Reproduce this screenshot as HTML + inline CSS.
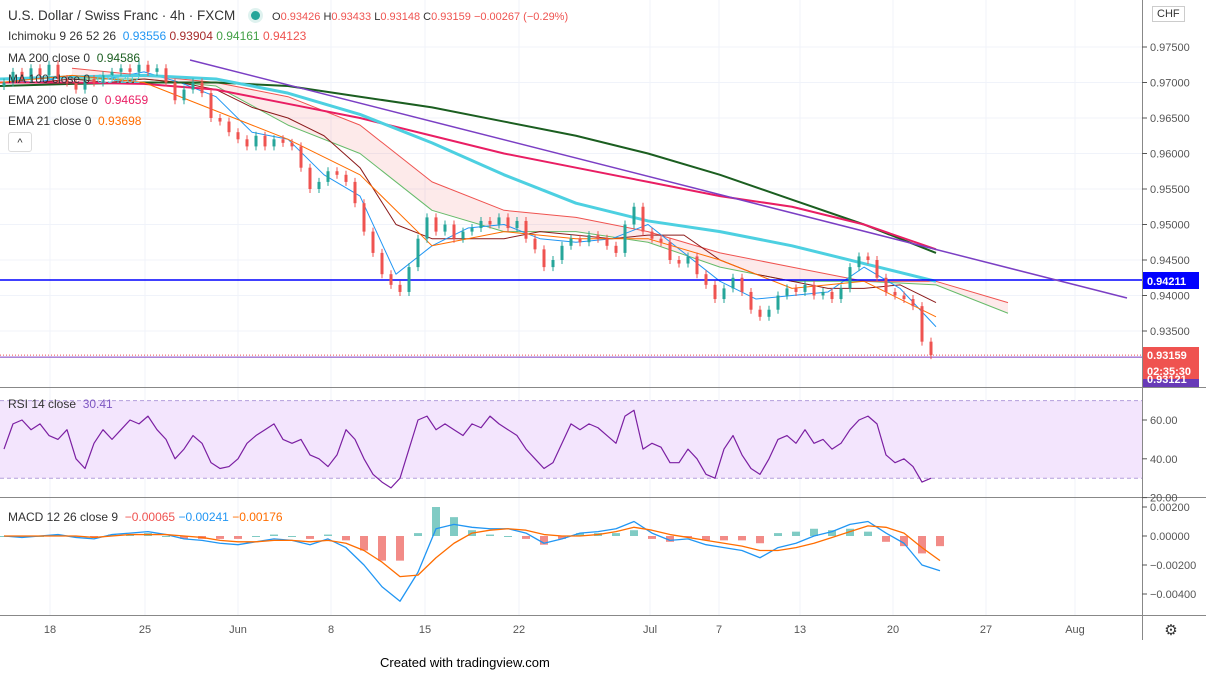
<!DOCTYPE html>
<html><head><meta charset="utf-8">
<style>
body{margin:0;width:1206px;height:683px;background:#fff;font-family:"Liberation Sans",sans-serif;overflow:hidden;position:relative}
svg{position:absolute;left:0;top:0}
.lg{position:absolute;left:8px;font-size:12px;color:#333;white-space:nowrap}
</style></head><body>
<svg id="c" width="1206" height="683"></svg>
<div class="lg" style="top:8px;font-size:13.5px">U.S. Dollar / Swiss Franc · 4h · FXCM <span style="display:inline-block;width:9px;height:9px;border-radius:50%;background:#26a69a;margin:0 12px 0 12px;box-shadow:0 0 0 3px #dff2ef"></span><span style="font-size:11px;color:#ef5350"><span style="color:#333">O</span>0.93426 <span style="color:#333">H</span>0.93433 <span style="color:#333">L</span>0.93148 <span style="color:#333">C</span>0.93159 −0.00267 (−0.29%)</span></div>
<div class="lg" style="top:29px">Ichimoku 9 26 52 26 &nbsp;<span style="color:#2196f3">0.93556</span> <span style="color:#a52a2a">0.93904</span> <span style="color:#43a047">0.94161</span> <span style="color:#ef5350">0.94123</span></div>
<div class="lg" style="top:51px">MA 200 close 0 &nbsp;<span style="color:#1b5e20">0.94586</span></div>
<div class="lg" style="top:72px">MA 100 close 0 &nbsp;<span style="color:#4dd0e1">0.94202</span></div>
<div class="lg" style="top:93px">EMA 200 close 0 &nbsp;<span style="color:#e91e63">0.94659</span></div>
<div class="lg" style="top:114px">EMA 21 close 0 &nbsp;<span style="color:#ff6d00">0.93698</span></div>
<div style="position:absolute;left:8px;top:132px;width:22px;height:18px;border:1px solid #ddd;border-radius:3px;font-size:11px;text-align:center;line-height:20px;color:#333;background:#fff">^</div>
<div class="lg" style="top:397px">RSI 14 close &nbsp;<span style="color:#7e57c2">30.41</span></div>
<div class="lg" style="top:510px">MACD 12 26 close 9 &nbsp;<span style="color:#ef5350">−0.00065</span> <span style="color:#2196f3">−0.00241</span> <span style="color:#ff6d00">−0.00176</span></div>
<div style="position:absolute;left:1152px;top:6px;border:1px solid #ccc;font-size:11px;padding:1px 4px;color:#333;background:#fff">CHF</div>
<div style="position:absolute;left:380px;top:655px;font-size:13px;color:#000">Created with tradingview.com</div>
<script>
const closes=[.9700,.9715,.9705,.9720,.9710,.9725,.9705,.9700,.9690,.9705,.9700,.9710,.9715,.9720,.9715,.9725,.9715,.9720,.9700,.9675,.9690,.9700,.9685,.9650,.9645,.9630,.9620,.9610,.9625,.9610,.9620,.9615,.9610,.9580,.9550,.9560,.9575,.9570,.9560,.9530,.9490,.9460,.9430,.9415,.9405,.9440,.9480,.9510,.9490,.9500,.9480,.9490,.9495,.9505,.9500,.9510,.9495,.9505,.9480,.9465,.9440,.9450,.9470,.9480,.9475,.9485,.9480,.9470,.9460,.9500,.9525,.9490,.9480,.9475,.9450,.9445,.9455,.9430,.9415,.9395,.9410,.9425,.9405,.9380,.9370,.9380,.9400,.9410,.9405,.9415,.9400,.9405,.9395,.9410,.9440,.9455,.9450,.9425,.9405,.9400,.9395,.9385,.9335,.9316];
const opens=[.9695].concat(closes.slice(0,-1));
const ma200=[.9695,.9698,.9700,.9700,.9695,.9680,.9665,.9645,.9625,.9600,.9570,.9535,.9500,.9460];
const ema200=[.9700,.9700,.9698,.9690,.9670,.9650,.9625,.9600,.9580,.9560,.9540,.9525,.9500,.9465];
const ma100=[.9705,.9708,.9710,.9705,.9685,.9655,.9615,.9570,.9530,.9505,.9490,.9470,.9445,.9420];
const ema21=[.9700,.9710,.9700,.9660,.9620,.9570,.9470,.9490,.9480,.9480,.9450,.9410,.9420,.9370];
const spanA=[.9705,.9705,.9695,.9640,.9600,.9520,.9490,.9490,.9475,.9440,.9420,.9420,.9415,.9375];
const spanB=[.9720,.9710,.9700,.9680,.9640,.9560,.9520,.9510,.9490,.9460,.9440,.9420,.9420,.9390];
const tenkan=[.9705,.9700,.9710,.9705,.9715,.9700,.9680,.9630,.9620,.9570,.9540,.9430,.9470,.9495,.9500,.9480,.9475,.9480,.9500,.9460,.9420,.9395,.9400,.9405,.9440,.9410,.9356];
const kijun=[.9700,.9700,.9705,.9700,.9705,.9700,.9690,.9665,.9650,.9625,.9580,.9500,.9480,.9480,.9480,.9490,.9485,.9480,.9485,.9485,.9450,.9430,.9420,.9410,.9410,.9415,.9390];
const rsi=[45,58,60,55,58,52,50,55,40,35,48,55,50,55,60,58,62,55,50,40,45,52,48,38,35,36,40,48,52,55,58,50,48,50,42,40,36,42,55,50,40,32,28,25,30,45,60,62,55,58,55,52,58,56,62,58,55,52,45,40,35,38,48,58,55,58,56,52,48,62,65,45,48,46,38,38,45,40,32,30,45,52,42,35,32,40,50,52,48,55,48,50,45,48,55,60,62,58,42,38,40,36,28,30];
const macd=[0,-1,0,1,-1,-2,1,2,3,1,-2,-3,-5,-6,-4,-2,-3,-6,-2,-8,-20,-35,-45,-25,5,8,6,5,5,2,-5,-2,2,3,5,10,2,-3,-2,-6,-8,-10,-15,-8,-5,0,3,8,10,2,-5,-20,-24];
const signal=[0,0,0,0,0,-1,0,1,1,1,0,-1,-3,-4,-4,-3,-3,-4,-3,-5,-10,-18,-28,-27,-15,-5,2,4,5,4,1,0,0,1,3,6,4,1,-1,-3,-5,-7,-10,-10,-8,-5,-1,3,7,6,2,-8,-17];
const priceTicks=[0.975,0.970,0.965,0.960,0.955,0.950,0.945,0.940,0.935];
const rsiTicks=[60,40,20];
const macdTicks=[0.002,0,-0.002,-0.004];
const dateLabels=["18","25","Jun","8","15","22","Jul","7","13","20","27","Aug"];
const datePos=[50,145,238,331,425,519,650,719,800,893,986,1075];

const S=document.getElementById('c'),NS='http://www.w3.org/2000/svg';
function el(t,a,p){const e=document.createElementNS(NS,t);for(const k in a)e.setAttribute(k,a[k]);(p||S).appendChild(e);return e;}
const yP=p=>47+(0.975-p)/0.005*35.5;
const yR=v=>420+(60-v)*1.94;
const yM=v=>536-v/0.001*14.5;
const xC=i=>4+i*9;
const xI=i=>i*72;
const xH=i=>i*36;
for(const x of datePos){const g=el('line',{x1:x,x2:x,y1:0,y2:615,stroke:'#f0f3fa'});}
for(const p of priceTicks){const g=el('line',{x1:0,x2:1142,y1:yP(p),y2:yP(p),stroke:'#f0f3fa'});}
for(const y of [387,497,615]){const l=el('line',{x1:0,x2:1206,y1:y+0.5,y2:y+0.5,stroke:'#888'});}
const ax=el('line',{x1:1142.5,x2:1142.5,y1:0,y2:640,stroke:'#888'});
function txt(x,y,s,a){const t=el('text',Object.assign({x:x,y:y,'font-size':11,fill:'#555','font-family':'Liberation Sans'},a||{}));t.textContent=s;return t;}
for(const p of priceTicks){el('line',{x1:1142,x2:1147,y1:yP(p),y2:yP(p),stroke:'#555'});const t=txt(1150,yP(p)+4,p.toFixed(5));}
for(const v of rsiTicks){el('line',{x1:1142,x2:1147,y1:yR(v),y2:yR(v),stroke:'#555'});const t=txt(1150,yR(v)+4,v.toFixed(2));}
for(const v of macdTicks){el('line',{x1:1142,x2:1147,y1:yM(v),y2:yM(v),stroke:'#555'});const t=txt(1150,yM(v)+4,(v<0?'−':'')+Math.abs(v).toFixed(5));}
dateLabels.forEach((d,i)=>{const t=txt(datePos[i],633,d,{'text-anchor':'middle'});});
const gear=txt(1171,635,'⚙',{'text-anchor':'middle','font-size':15,fill:'#333'});
let cloudPath='';
spanA.forEach((v,i)=>{cloudPath+=(i?'L':'M')+(xI(i+1))+','+yP(v);});
for(let i=spanB.length-1;i>=0;i--)cloudPath+='L'+xI(i+1)+','+yP(spanB[i]);
const cl=el('path',{d:cloudPath+'Z',fill:'rgba(239,83,80,0.12)'});
function line(arr,xf,yf,st,w,name){const d=arr.map((v,i)=>(i?'L':'M')+xf(i)+','+yf(v)).join('');const p=el('path',{d:d,fill:'none',stroke:st,'stroke-width':w,'stroke-linejoin':'round'});return p;}
line(spanA,i=>xI(i+1),yP,'#66bb6a',1,'span-a-line');
line(spanB,i=>xI(i+1),yP,'#ef5350',1,'span-b-line');
line(kijun,xH,yP,'#8b1a1a',1,'kijun-line');
line(tenkan,xH,yP,'#2196f3',1,'tenkan-line');
line(ma200,xI,yP,'#1b5e20',2,'ma200-line');
line(ema200,xI,yP,'#e91e63',2,'ema200-line');
line(ma100,xI,yP,'#4dd0e1',3,'ma100-line');
line(ema21,xI,yP,'#ff6d00',1,'ema21-line');
const hl=el('line',{x1:0,x2:1142,y1:280,y2:280,stroke:'#0000ff','stroke-width':1.5});
const tl=el('line',{x1:190,y1:60,x2:1127,y2:298,stroke:'#7b3fc4','stroke-width':1.5});
const lastY=yP(closes[closes.length-1]);
const cp=el('line',{x1:0,x2:1142,y1:lastY,y2:lastY,stroke:'#ef5350','stroke-dasharray':'1 2'});
const pl=el('line',{x1:0,x2:1142,y1:lastY+2,y2:lastY+2,stroke:'#7b3fc4'});
closes.forEach((c,i)=>{const o=opens[i],up=c>=o,col=up?'#26a69a':'#ef5350',x=xC(i);
 const y1=yP(Math.max(o,c)),y2=yP(Math.min(o,c));
 const w=el('line',{x1:x,x2:x,y1:y1-4,y2:y2+4,stroke:col});
 const b=el('rect',{x:x-1.5,y:y1,width:3,height:Math.max(1,y2-y1),fill:col});});
const band=el('rect',{x:0,y:yR(70),width:1142,height:yR(30)-yR(70),fill:'#f3e5fd'});
for(const v of [70,30]){const bl=el('line',{x1:0,x2:1142,y1:yR(v),y2:yR(v),stroke:'#b39ddb','stroke-dasharray':'4 3'});}
line(rsi,xC,yR,'#7b1fa2',1.2,'rsi-line');
const n=Math.min(macd.length,signal.length);
for(let i=0;i<n;i++){const h=macd[i]-signal[i];const v=h*1e-4;const y0=yM(0),y=yM(v);
 const r=el('rect',{x:4+i*18-4,y:Math.min(y0,y),width:8,height:Math.max(1,Math.abs(y-y0)),fill:h>=0?'#80cbc4':'#f28b87'});}
line(macd.slice(0,n).map(v=>v*1e-4),i=>4+i*18,yM,'#2196f3',1.3,'macd-line');
line(signal.slice(0,n).map(v=>v*1e-4),i=>4+i*18,yM,'#ff6d00',1.3,'signal-line');
function badge(y,h,bg,s,name){const g=el('g',{});el('rect',{x:1143,y:y,width:56,height:h,fill:bg},g);const t=el('text',{x:1147,y:y+h-4,'font-size':11,fill:'#fff','font-weight':'bold','font-family':'Liberation Sans'},g);t.textContent=s;}
badge(272,17,'#0000ff','0.94211','support-price-badge');
badge(347,16,'#ef5350','0.93159','last-price-badge');
badge(363,16,'#ef5350','02:35:30','countdown-badge');
badge(379,8,'#673ab7','0.93121','purple-line-badge');
</script>
</body></html>
